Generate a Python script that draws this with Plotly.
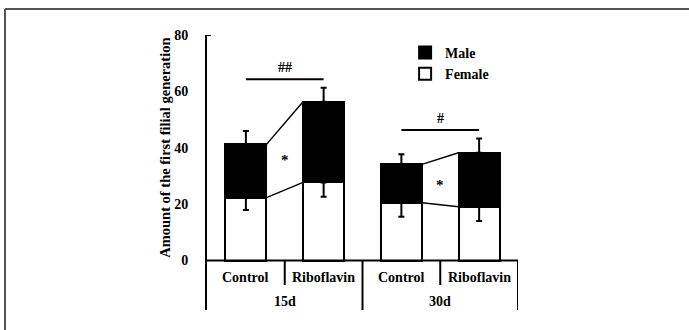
import plotly.graph_objects as go

# ---- data ----
groups = ["15d", "30d"]
treatments = ["Control", "Riboflavin", "Control", "Riboflavin"]
female = [22.3, 27.7, 20.5, 19.1]
male = [18.9, 28.6, 13.6, 19.1]
female_err = [4.4, 5.1, 5.0, 5.1]
male_err = [4.7, 5.0, 3.6, 5.1]
sig_labels = ["##", "#"]
sig_heights = [64.3, 46.3]
y_ticks = [0, 20, 40, 60, 80]
y_title = "Amount of the first filial generation"

FONT = "Liberation Serif"
BW = 0.53
x_pos = list(range(len(treatments)))
totals = [f + m for f, m in zip(female, male)]

fig = go.Figure()
fig.add_trace(go.Bar(x=x_pos, y=female, width=BW, name="Female",
                     marker=dict(color="white", line=dict(color="black", width=2))))
fig.add_trace(go.Bar(x=x_pos, y=male, width=BW, name="Male",
                     marker=dict(color="black", line=dict(color="black", width=2))))

# error bars
fig.add_trace(go.Scatter(x=x_pos, y=female, mode="markers", marker=dict(size=1, color="rgba(0,0,0,0)"),
                         showlegend=False, hoverinfo="skip",
                         error_y=dict(type="data", symmetric=False, array=[0]*4, arrayminus=female_err,
                                      color="black", thickness=2, width=3)))
fig.add_trace(go.Scatter(x=x_pos, y=totals, mode="markers", marker=dict(size=1, color="rgba(0,0,0,0)"),
                         showlegend=False, hoverinfo="skip",
                         error_y=dict(type="data", symmetric=False, array=male_err, arrayminus=[0]*4,
                                      color="black", thickness=2, width=3)))

# connecting lines and asterisks between paired bars
for g in range(len(groups)):
    a, b = 2 * g, 2 * g + 1
    for vals in (female, totals):
        fig.add_trace(go.Scatter(x=[a + BW / 2, b - BW / 2], y=[vals[a], vals[b]], mode="lines",
                                 line=dict(color="black", width=1.5), showlegend=False, hoverinfo="skip"))
    mid = (female[a] + female[b] + totals[a] + totals[b]) / 4
    fig.add_annotation(x=(a + b) / 2, y=mid, text="*", showarrow=False, yshift=-3,
                       font=dict(family=FONT, size=15, color="black", weight="bold"))
    # significance line
    fig.add_shape(type="line", x0=a, x1=b, y0=sig_heights[g], y1=sig_heights[g],
                  line=dict(color="black", width=2))
    fig.add_annotation(x=(a + b) / 2, y=sig_heights[g], text=sig_labels[g], showarrow=False,
                       yanchor="bottom", yshift=2,
                       font=dict(family=FONT, size=14, color="black", weight="bold"))
    # group label
    fig.add_annotation(x=(a + b) / 2, y=-14.7, text=groups[g], showarrow=False,
                       font=dict(family=FONT, size=14, color="black", weight="bold"))

# zero line and category dividers
fig.add_shape(type="line", x0=-0.5, x1=3.5, y0=0, y1=0, line=dict(color="black", width=2))
for i, t in enumerate(treatments):
    fig.add_annotation(x=i, y=-6.2, text=t, showarrow=False,
                       font=dict(family=FONT, size=14, color="black", weight="bold"))
for g in range(len(groups)):
    fig.add_shape(type="line", x0=2 * g + 0.5, x1=2 * g + 0.5, y0=0, y1=-8.7,
                  line=dict(color="black", width=2))
    fig.add_shape(type="line", x0=2 * g + 1.5, x1=2 * g + 1.5, y0=0, y1=-17.56,
                  line=dict(color="black", width=2))
# small tick at top of axis
fig.add_shape(type="line", x0=-0.5, x1=-0.45, y0=80, y1=80, line=dict(color="black", width=2))

# y-axis title, centred on the 0-80 value range
fig.add_annotation(xref="paper", yref="y", x=-0.135, y=(y_ticks[0] + y_ticks[-1]) / 2,
                   xanchor="center", yanchor="middle",
                   text=y_title, textangle=-90, showarrow=False,
                   font=dict(family=FONT, size=14.5, color="black", weight="bold"))

# outer frame (top and left edges)
fig.add_shape(type="line", xref="paper", yref="paper", x0=-0.6495, x1=1.6, y0=1.0945, y1=1.0945,
              line=dict(color="#555555", width=2))
fig.add_shape(type="line", xref="paper", yref="paper", x0=-0.6495, x1=-0.6495, y0=1.0945, y1=-0.1,
              line=dict(color="#555555", width=2))

fig.update_layout(
    width=689, height=330,
    margin=dict(l=207, r=171, t=35, b=20),
    plot_bgcolor="white", paper_bgcolor="white",
    barmode="stack",
    font=dict(family=FONT, size=14, color="black", weight="bold"),
    showlegend=True,
    legend=dict(x=0.637, y=0.993, xanchor="left", yanchor="top", traceorder="reversed",
                bgcolor="rgba(0,0,0,0)", font=dict(family=FONT, size=14, weight="bold")),
    xaxis=dict(range=[-0.5, 3.5], showticklabels=False, showline=False, showgrid=False,
               zeroline=False, ticks=""),
    yaxis=dict(range=[-17.56, 80], tickvals=y_ticks, showline=True, linecolor="black", linewidth=2,
               showgrid=False, zeroline=False, ticks="", ticklabelstandoff=14,
               tickfont=dict(family=FONT, size=14, weight="bold")),
)

fig.write_html("out.html", post_script="document.body.style.margin='0';",
               config={"displayModeBar": False})
